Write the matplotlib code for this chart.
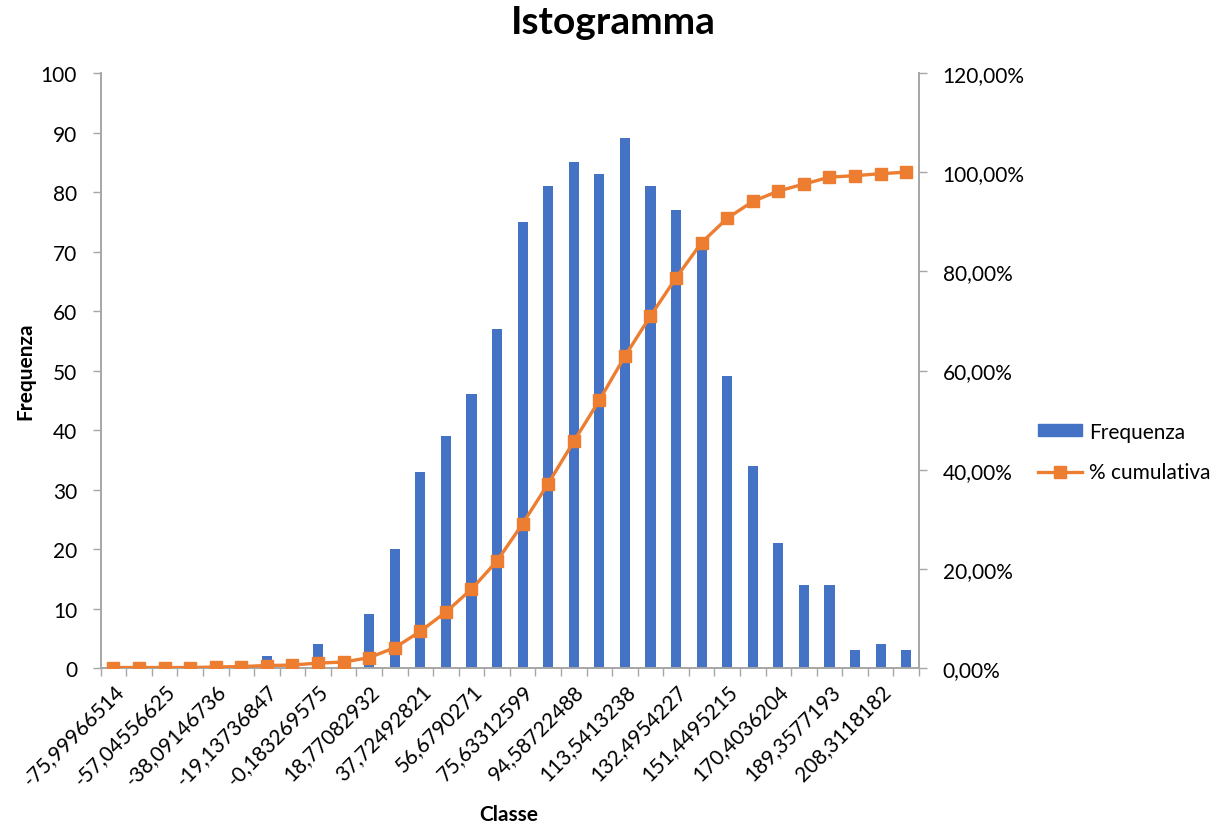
import numpy as np
import matplotlib
matplotlib.use("Agg")
import matplotlib.pyplot as plt
from matplotlib.ticker import FuncFormatter, MultipleLocator
from matplotlib.patches import Patch
from matplotlib.lines import Line2D

plt.rcParams['font.family'] = ['Lato', 'DejaVu Sans']

classes = [
    "-75,99966514", "-66,5226157", "-57,04556625", "-47,56851681",
    "-38,09146736", "-28,61441791", "-19,13736847", "-9,660319022",
    "-0,183269575", "9,293779872", "18,77082932", "28,24787877",
    "37,72492821", "47,20197766", "56,6790271", "66,15607655",
    "75,63312599", "85,11017544", "94,58722488", "104,0642743",
    "113,5413238", "123,0183732", "132,4954227", "141,9724721",
    "151,4495215", "160,926571", "170,4036204", "179,8806699",
    "189,3577193", "198,8347688", "208,3118182", "Altro",
]
frequenza = [1, 0, 0, 0, 1, 1, 2, 1, 4, 2, 9, 20, 33, 39, 46, 57,
             75, 81, 85, 83, 89, 81, 77, 71, 49, 34, 21, 14, 14, 3, 4, 3]

cum_pct = np.cumsum(frequenza) / np.sum(frequenza) * 100

BLUE = "#4472C4"
ORANGE = "#ED7D31"
GRAY = "#A6A6A6"
TXT = "#000000"
FS = 15

fig = plt.figure(figsize=(12.25, 8.28), dpi=100)
ax = fig.add_axes([0.0822, 0.192, 0.6680, 0.7186])
ax2 = ax.twinx()

x = np.arange(len(classes))
ax.bar(x, frequenza, width=0.4, color=BLUE, zorder=2)
ax2.plot(x, cum_pct, color=ORANGE, lw=2.4, marker='s', markersize=8.5,
         markerfacecolor=ORANGE, markeredgecolor=ORANGE, zorder=3)

ax.set_xlim(-0.5, len(classes) - 0.5)
ax.set_ylim(0, 100)
ax2.set_ylim(0, 120)
ax.yaxis.set_major_locator(MultipleLocator(10))
ax2.yaxis.set_major_locator(MultipleLocator(20))
ax2.yaxis.set_major_formatter(FuncFormatter(lambda v, p: f"{v:.2f}%".replace('.', ',')))

# x ticks: boundaries as tick marks, labels every other category
ax.set_xticks(np.arange(-0.5, len(classes) + 0.5, 1.0))
ax.set_xticklabels([])
ax.set_xticks(x[::2], minor=True)
ax.set_xticklabels([classes[i] for i in x[::2]], minor=True, rotation=45,
                   ha='right', rotation_mode='anchor', fontsize=FS, color=TXT)
ax.tick_params(axis='x', which='major', length=6, width=1, color=GRAY, direction='out')
ax.tick_params(axis='x', which='minor', length=0, pad=9)

ax.tick_params(axis='y', length=6, width=1, color=GRAY, labelsize=FS, labelcolor=TXT, pad=11)
ax2.tick_params(axis='y', length=6, width=1, color=GRAY, labelsize=FS, labelcolor=TXT, pad=11)

for a in (ax, ax2):
    a.spines['top'].set_visible(False)
    for s in ('left', 'right', 'bottom'):
        a.spines[s].set_color(GRAY)
        a.spines[s].set_linewidth(1.2)

ax.set_xlabel("Classe", fontsize=15, fontweight='bold')
ax.xaxis.set_label_coords(0.5, -0.0, transform=None)
ax.xaxis.label.set_position((0, 0))
ax.xaxis.label.set_transform(fig.transFigure)
ax.xaxis.label.set_x(509 / 1225)
ax.xaxis.label.set_y(1 - 815 / 828)
ax.xaxis.label.set_va('center')

ax.set_ylabel("Frequenza", fontsize=15, fontweight='bold')
ax.yaxis.set_label_coords(25 / 1225, 371 / 828 * -1 + 1, transform=fig.transFigure)
ax.yaxis.label.set_va('center')

fig.suptitle("Istogramma", fontsize=28, fontweight='bold', x=0.501, y=0.973, va='center')
fig.texts[-1].set_y(1 - 22 / 828)

handles = [Patch(facecolor=BLUE, edgecolor=BLUE),
           Line2D([0], [0], color=ORANGE, lw=2.4, marker='s', markersize=8)]
fig.legend(handles, ["Frequenza", "% cumulativa"], loc='center left',
           bbox_to_anchor=(1038 / 1225, 1 - 453 / 828), frameon=False, fontsize=FS,
           handlelength=2.1, handleheight=0.55, labelspacing=1.0, handletextpad=0.35,
           borderaxespad=0, borderpad=0)

fig.savefig("out.png", dpi=100, facecolor='white')
